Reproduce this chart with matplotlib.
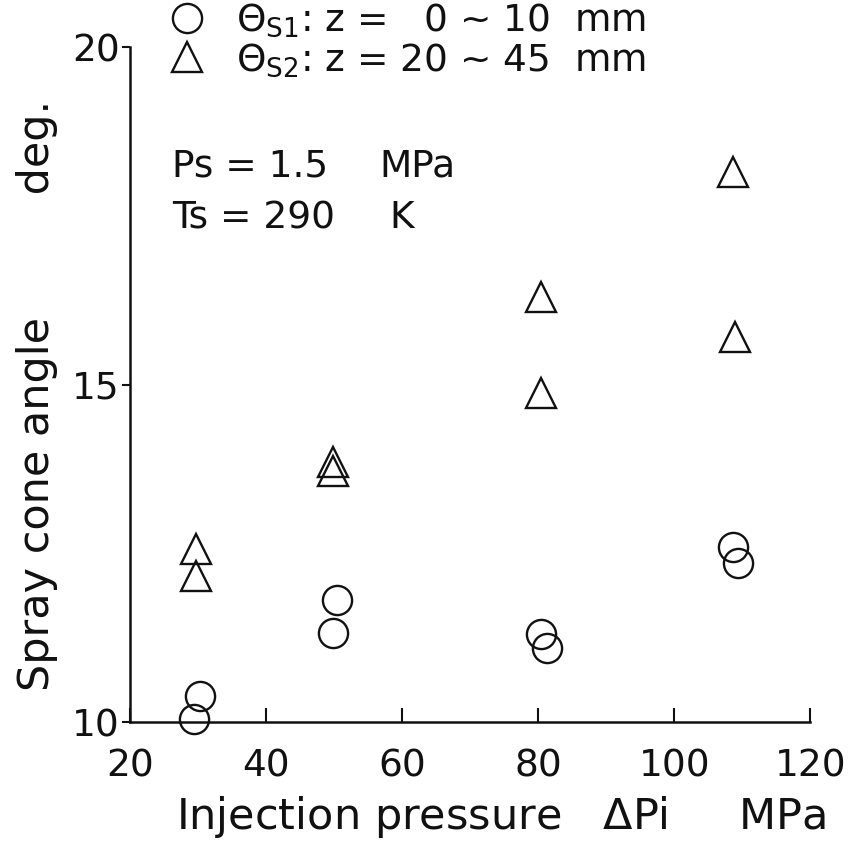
import matplotlib.pyplot as plt
from matplotlib.lines import Line2D

plt.rcParams["font.family"] = "DejaVu Sans"
plt.rcParams["mathtext.fontset"] = "dejavusans"

# injection pressure (MPa) and spray cone angle (deg)
p_s1 = [29.4, 30.3, 49.9, 50.4, 80.4, 81.3, 108.6, 109.4]
theta_s1 = [10.04, 10.39, 11.32, 11.81, 11.3, 11.1, 12.6, 12.36]

p_s2 = [29.8, 29.8, 49.9, 49.9, 80.4, 80.5, 108.6, 108.9]
theta_s2 = [12.56, 12.17, 13.85, 13.72, 16.3, 14.88, 18.15, 15.7]

ink = "#111111"

fig = plt.figure(figsize=(8.53, 8.43), dpi=100)
ax = fig.add_axes([0.152, 0.1435, 0.798, 0.8005])

ax.plot(p_s1, theta_s1, "o", ms=21, mfc="none", mec=ink, mew=1.7, clip_on=False)
ax.plot(p_s2, theta_s2, "^", ms=22, mfc="none", mec=ink, mew=1.7, clip_on=False)

ax.set_xlim(20, 120)
ax.set_ylim(10, 20)
ax.set_xticks([20, 40, 60, 80, 100, 120])
ax.set_yticks([10, 15, 20])

for side in ["top", "right"]:
    ax.spines[side].set_visible(False)
for side in ["left", "bottom"]:
    ax.spines[side].set_linewidth(1.8)
    ax.spines[side].set_color(ink)

ax.tick_params(axis="x", direction="in", length=10, width=1.5, colors=ink,
               labelsize=27, pad=19)
ax.tick_params(axis="y", direction="out", length=6, width=1.5, colors=ink,
               labelsize=27, pad=1)

ax.set_xlabel(r"Injection pressure   $\Delta$Pi     MPa", fontsize=31,
              color=ink)
ax.xaxis.set_label_coords(0.545, -0.106)
ax.set_ylabel("Spray cone angle         deg.", fontsize=31, color=ink)
ax.yaxis.set_label_coords(-0.105, 0.484)

# legend for the two measuring zones
handles = [
    Line2D([], [], ls="none", marker="o", ms=21, mfc="none", mec=ink, mew=1.7),
    Line2D([], [], ls="none", marker="^", ms=22, mfc="none", mec=ink, mew=1.7),
]
labels = [
    r"$\Theta_{\mathrm{S1}}$: z =   0 ~ 10  mm",
    r"$\Theta_{\mathrm{S2}}$: z = 20 ~ 45  mm",
]
ax.legend(handles, labels, loc="upper left", bbox_to_anchor=(0.035, 1.09),
          frameon=False, fontsize=27, handlelength=1.0, handletextpad=0.8,
          labelspacing=0.05, borderaxespad=0, labelcolor=ink)

# operating conditions
ax.text(0.062, 0.808, "Ps = 1.5", transform=ax.transAxes, fontsize=27,
        color=ink, va="baseline")
ax.text(0.367, 0.808, "MPa", transform=ax.transAxes, fontsize=27,
        color=ink, va="baseline")
ax.text(0.062, 0.732, "Ts = 290", transform=ax.transAxes, fontsize=27,
        color=ink, va="baseline")
ax.text(0.382, 0.732, "K", transform=ax.transAxes, fontsize=27,
        color=ink, va="baseline")

fig.savefig("out.png", dpi=100)
